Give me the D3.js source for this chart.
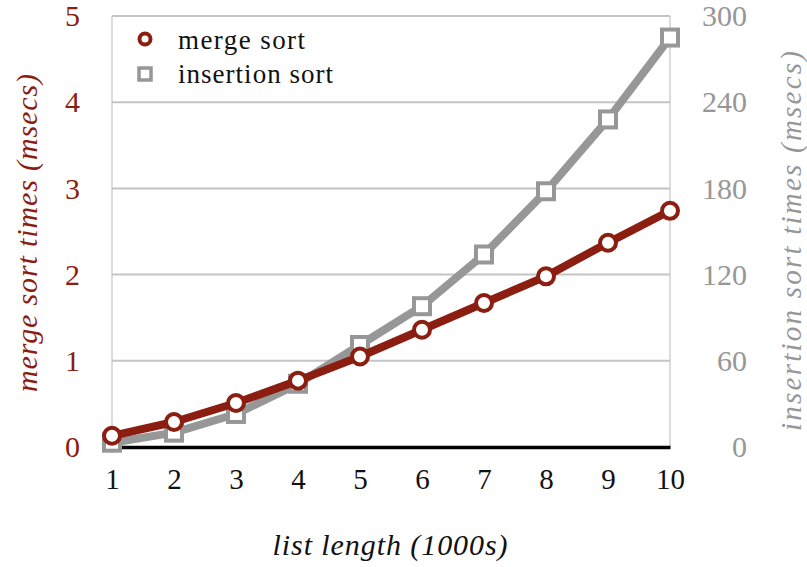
<!DOCTYPE html>
<html><head><meta charset="utf-8">
<script src="https://cdn.jsdelivr.net/npm/d3@7"></script>
<style>
body{margin:0;background:#fff;}
text{font-family:"Liberation Serif","DejaVu Serif",serif;}
</style></head>
<body><svg id="c" width="807" height="567"></svg>
<script>
const lengths = [1,2,3,4,5,6,7,8,9,10];
const mergeTimes = [0.13,0.29,0.51,0.77,1.05,1.36,1.67,1.98,2.37,2.74];
const insertionTimes = [3,10,23,44,71,98,134,178,228,285];
const leftTicks = [0,1,2,3,4,5];
const rightTicks = [0,60,120,180,240,300];

const RED = "#8b1e10", GRAY = "#979797", GRID = "#c4c4c4";
const svg = d3.select("#c");
const L = 112, R = 670, T = 16, B = 447;
const x = d3.scaleLinear().domain([1,10]).range([L,R]);
const yl = d3.scaleLinear().domain([0,5]).range([B,T]);
const yr = d3.scaleLinear().domain([0,300]).range([B,T]);

// gridlines
svg.append("g").selectAll("line").data(leftTicks.slice(1)).join("line")
  .attr("x1",L).attr("x2",R).attr("y1",d=>yl(d)).attr("y2",d=>yl(d))
  .attr("stroke",GRID).attr("stroke-width",2);
svg.append("line").attr("x1",L).attr("x2",L).attr("y1",T).attr("y2",B).attr("stroke",GRID).attr("stroke-width",1.2);
svg.append("line").attr("x1",R).attr("x2",R).attr("y1",T).attr("y2",B).attr("stroke",GRID).attr("stroke-width",1.2);

const ax = svg.append("g").attr("transform",`translate(0,${B})`)
  .call(d3.axisBottom(x).tickValues(lengths).tickSize(0).tickPadding(21).tickFormat(d3.format("d")));
ax.select(".domain").attr("stroke","#000").attr("stroke-width",3.5);
ax.selectAll("text").attr("font-size",29).attr("fill","#111").attr("font-family","Liberation Serif");

const al = svg.append("g").attr("transform",`translate(${L},0)`)
  .call(d3.axisLeft(yl).tickValues(leftTicks).tickSize(0).tickPadding(32).tickFormat(d3.format("d")));
al.select(".domain").remove();
al.selectAll("text").attr("font-size",30).attr("fill",RED).attr("font-family","Liberation Serif");

const ar = svg.append("g").attr("transform",`translate(${R},0)`)
  .call(d3.axisRight(yr).tickValues(rightTicks).tickSize(0).tickPadding(30).tickFormat(d3.format("d")));
ar.select(".domain").remove();
ar.selectAll("text").attr("font-size",30).attr("fill",GRAY).attr("text-anchor","end").attr("dx",47).attr("font-family","Liberation Serif");

const lineR = d3.line().x((d,i)=>x(lengths[i])).y(d=>yr(d));
const lineL = d3.line().x((d,i)=>x(lengths[i])).y(d=>yl(d));
svg.append("path").datum(insertionTimes).attr("d",lineR).attr("fill","none")
  .attr("stroke",GRAY).attr("stroke-width",8).attr("stroke-linejoin","round");
svg.append("g").selectAll("rect").data(insertionTimes).join("rect")
  .attr("x",(d,i)=>x(lengths[i])-8).attr("y",d=>yr(d)-8).attr("width",16).attr("height",16)
  .attr("fill","#fff").attr("stroke",GRAY).attr("stroke-width",4);

svg.append("path").datum(mergeTimes).attr("d",lineL).attr("fill","none")
  .attr("stroke",RED).attr("stroke-width",8).attr("stroke-linejoin","round");
svg.append("g").selectAll("circle").data(mergeTimes).join("circle")
  .attr("cx",(d,i)=>x(lengths[i])).attr("cy",d=>yl(d)).attr("r",8)
  .attr("fill","#fff").attr("stroke",RED).attr("stroke-width",4);

// legend
const lg = svg.append("g");
lg.append("circle").attr("cx",145).attr("cy",39).attr("r",5.5).attr("fill","#fff").attr("stroke",RED).attr("stroke-width",4);
lg.append("text").attr("x",178).attr("y",49).attr("font-size",27).attr("fill","#111")
  .attr("textLength",127).attr("lengthAdjust","spacing").text("merge sort");
lg.append("rect").attr("x",139).attr("y",68).attr("width",12).attr("height",12).attr("fill","#fff").attr("stroke",GRAY).attr("stroke-width",3.5);
lg.append("text").attr("x",178).attr("y",83).attr("font-size",27).attr("fill","#111")
  .attr("textLength",155).attr("lengthAdjust","spacing").text("insertion sort");

// axis titles
svg.append("text").attr("transform","translate(37,233) rotate(-90)").attr("text-anchor","middle")
  .attr("font-size",30).attr("font-style","italic").attr("fill",RED)
  .attr("textLength",318).attr("lengthAdjust","spacing").text("merge sort times (msecs)");
svg.append("text").attr("transform","translate(801,241) rotate(-90)").attr("text-anchor","middle")
  .attr("font-size",29).attr("font-style","italic").attr("fill",GRAY)
  .attr("textLength",380).attr("lengthAdjust","spacing").text("insertion sort times (msecs)");
svg.append("text").attr("x",390).attr("y",555).attr("text-anchor","middle")
  .attr("font-size",30).attr("font-style","italic").attr("fill","#111")
  .attr("textLength",235).attr("lengthAdjust","spacing").text("list length (1000s)");
</script></body></html>
